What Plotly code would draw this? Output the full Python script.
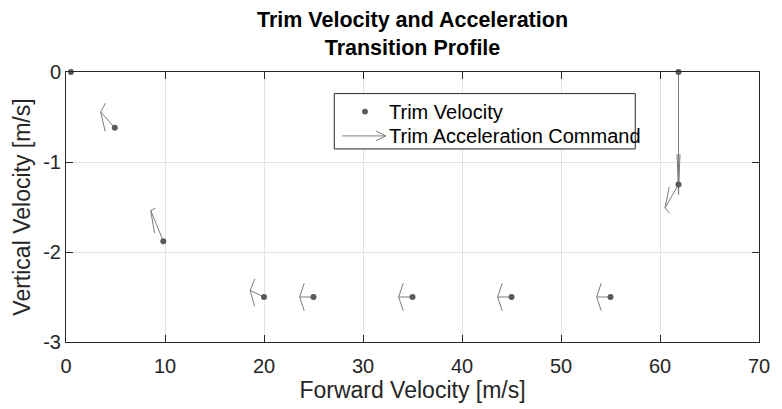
import plotly.graph_objects as go

# Trim velocity points (forward, vertical) in m/s
forward_velocity = [0.5, 4.93, 9.83, 20.0, 25.0, 35.0, 45.0, 55.0, 61.87, 61.87]
vertical_velocity = [0.0, -0.62, -1.88, -2.5, -2.5, -2.5, -2.5, -2.5, 0.0, -1.25]

# Scaled acceleration command vectors drawn at each trim point
accel_u = [0.0, -1.43, -1.27, -1.40, -1.40, -1.40, -1.40, -1.40, 0.0, -1.36]
accel_v = [0.0, 0.176, 0.34, 0.073, 0.0, 0.0, 0.0, 0.0, -1.36, -0.26]

x_ticks = [0, 10, 20, 30, 40, 50, 60, 70]
y_ticks = [-3, -2, -1, 0]
y_tick_text = ["-3", "-2", "-1", "0"]

DOT = "#5a5a5a"
ARROW = "#7c7c7c"
AXIS = "#262626"
FONT = "Liberation Sans, Arial, Helvetica, sans-serif"

# quiver-style arrows: shaft plus two barbs computed in data units
alpha, beta = 0.33, 0.33
qx, qy = [], []
for x0, y0, u, v in zip(forward_velocity, vertical_velocity, accel_u, accel_v):
    if u == 0 and v == 0:
        continue
    tx, ty = x0 + u, y0 + v
    qx += [x0, tx, None]
    qy += [y0, ty, None]
    qx += [tx - alpha * (u + beta * v), tx, tx - alpha * (u - beta * v), None]
    qy += [ty - alpha * (v - beta * u), ty, ty - alpha * (v + beta * u), None]

fig = go.Figure()
fig.add_trace(go.Scatter(
    x=qx, y=qy, mode="lines", line=dict(color=ARROW, width=1),
    name="Trim Acceleration Command", showlegend=False, hoverinfo="skip",
    cliponaxis=False,
))
fig.add_trace(go.Scatter(
    x=forward_velocity, y=vertical_velocity, mode="markers",
    marker=dict(color=DOT, size=6), name="Trim Velocity", showlegend=False,
    cliponaxis=False,
))

# legend drawn as a framed box with a dot and an arrow sample
lx0, lx1 = 27.1, 57.5
ly0, ly1 = -0.24, -0.855
row1, row2 = -0.44, -0.71
shapes = [dict(type="rect", xref="x", yref="y", x0=lx0, x1=lx1, y0=ly0, y1=ly1,
               line=dict(color=AXIS, width=1), fillcolor="white", layer="above")]
sx0, sx1 = 27.9, 32.3
shapes.append(dict(type="line", xref="x", yref="y", x0=sx0, x1=sx1, y0=row2, y1=row2,
                   line=dict(color=ARROW, width=1), layer="above"))
shapes.append(dict(type="path", xref="x", yref="y",
                   path=f"M {sx1-1.0},{row2+0.055} L {sx1},{row2} L {sx1-1.0},{row2-0.055}",
                   line=dict(color=ARROW, width=1), layer="above"))
shapes.append(dict(type="circle", xref="x", yref="y",
                   x0=29.9, x1=30.5, y0=row1 - 0.033, y1=row1 + 0.033,
                   fillcolor=DOT, line=dict(color=DOT, width=0), layer="above"))

annotations = [
    dict(x=32.4, y=row1, xref="x", yref="y", text="Trim Velocity", showarrow=False,
         xanchor="left", yanchor="middle", font=dict(size=20, color="#000000", family=FONT)),
    dict(x=32.4, y=row2, xref="x", yref="y", text="Trim Acceleration Command", showarrow=False,
         xanchor="left", yanchor="middle", font=dict(size=20, color="#000000", family=FONT)),
]

fig.update_layout(
    width=782, height=409,
    margin=dict(l=66, r=14, t=72, b=65),
    paper_bgcolor="white", plot_bgcolor="white",
    font=dict(family=FONT, color="#262626"),
    title=dict(text="<b>Trim Velocity and Acceleration<br>Transition Profile</b>",
               x=0.5, xref="paper", xanchor="center",
               y=1, yref="paper", yanchor="bottom", pad=dict(b=45),
               font=dict(size=21.5, color="#000000", family=FONT)),
    shapes=shapes, annotations=annotations,
)
fig.update_xaxes(
    range=[0, 70], tickvals=x_ticks, ticks="inside", ticklen=7, tickcolor=AXIS,
    showline=True, linecolor=AXIS, linewidth=1, mirror="ticks",
    showgrid=True, gridcolor="#e3e3e3", zeroline=False,
    tickfont=dict(size=20, color="#262626"), ticklabelstandoff=6,
    title=dict(text="Forward Velocity [m/s]", font=dict(size=23, color="#262626"), standoff=4),
)
fig.update_yaxes(
    range=[-3, 0], tickvals=y_ticks, ticktext=y_tick_text, ticks="inside", ticklen=7,
    tickcolor=AXIS, showline=True, linecolor=AXIS, linewidth=1, mirror="ticks",
    showgrid=True, gridcolor="#e3e3e3", zeroline=False,
    tickfont=dict(size=20, color="#262626"),
    title=dict(text="Vertical Velocity [m/s]", font=dict(size=23, color="#262626"), standoff=6),
)

fig.write_html("out.html")
